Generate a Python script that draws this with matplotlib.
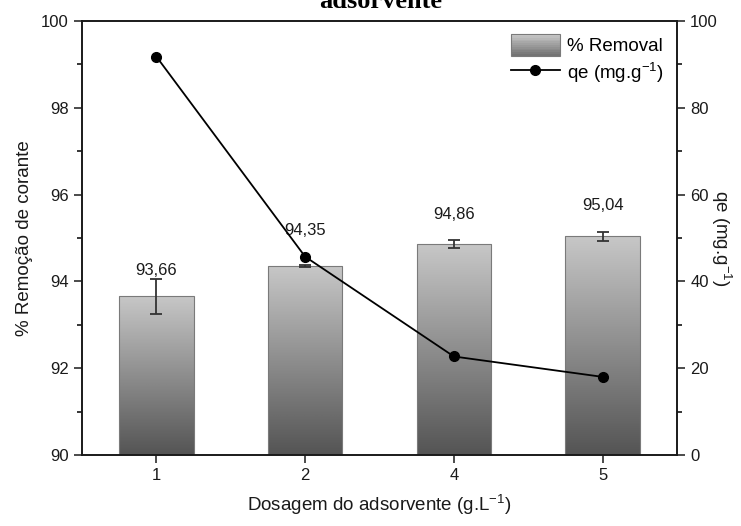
import numpy as np
import matplotlib.pyplot as plt
from matplotlib.legend_handler import HandlerBase
from matplotlib.patches import Rectangle
from matplotlib.lines import Line2D
from matplotlib.ticker import MultipleLocator

plt.rcParams['font.family'] = ['Liberation Sans', 'DejaVu Sans']

# Les données
dosagem = ['1', '2', '4', '5']
remocao = [93.66, 94.35, 94.86, 95.04]
erro = [0.40, 0.02, 0.09, 0.10]
qe = [91.8, 45.7, 22.7, 18.0]
rotulos = ['93,66', '94,35', '94,86', '95,04']
altura_rotulo = [94.26, 95.18, 95.55, 95.76]

sup = r'$\mathregular{^{-1}}$'


# Gradient pour la légende (petites bandes de gris)
class HandlerGradient(HandlerBase):
    def create_artists(self, legend, orig_handle, xdescent, ydescent,
                       width, height, fontsize, trans):
        n = 12
        arts = []
        for k in range(n):
            g = 0.78 - 0.33 * k / (n - 1)
            r = Rectangle((-xdescent, -ydescent + height * (1 - (k + 1) / n)),
                          width, height / n, facecolor=(g, g, g),
                          edgecolor='none', transform=trans)
            arts.append(r)
        arts.append(Rectangle((-xdescent, -ydescent), width, height,
                              facecolor='none', edgecolor='#7a7a7a', lw=0.8,
                              transform=trans))
        return arts


fig = plt.figure(figsize=(7.41, 5.26), dpi=100)
ax = fig.add_axes([82 / 741, 1 - 455 / 526, 595 / 741, 434 / 526])
x = np.arange(len(dosagem))

barras = ax.bar(x, remocao, width=0.5, bottom=0, facecolor='none',
                edgecolor='#7a7a7a', linewidth=0.8, zorder=2)
grad = np.linspace(0.78, 0.33, 256).reshape(-1, 1)
for b in barras:
    x0 = b.get_x()
    im = ax.imshow(np.dstack([grad] * 3), aspect='auto', zorder=1,
                   extent=(x0, x0 + b.get_width(), 90, b.get_height()),
                   interpolation='bicubic')
    im.set_clip_path(b)

ax.errorbar(x, remocao, yerr=erro, fmt='none', ecolor='#333333',
            elinewidth=1.3, capsize=4, capthick=1.3, zorder=3)
for i in range(len(x)):
    ax.text(x[i], altura_rotulo[i], rotulos[i], ha='center', va='center',
            fontsize=12, color='#1a1a1a', zorder=4)

ax.set_xlim(-0.5, 3.5)
ax.set_ylim(90, 100)
ax.set_xticks(x)
ax.set_xticklabels(dosagem)
ax.yaxis.set_major_locator(MultipleLocator(2))
ax.yaxis.set_minor_locator(MultipleLocator(1))
ax.tick_params(axis='both', which='major', direction='out', length=6,
               width=1.1, labelsize=12, colors='#1a1a1a')
ax.tick_params(axis='y', which='minor', direction='out', length=3.5, width=1.1)
ax.set_xlabel('Dosagem do adsorvente (g.L' + sup + ')', fontsize=13.5,
              color='#1a1a1a', labelpad=7)
ax.set_ylabel('% Remoção de corante', fontsize=13.5, color='#1a1a1a',
              labelpad=6)

ax2 = ax.twinx()
ax2.plot(x, qe, '-o', color='black', lw=1.3, markersize=7, zorder=5)
ax2.set_ylim(0, 100)
ax2.yaxis.set_major_locator(MultipleLocator(20))
ax2.yaxis.set_minor_locator(MultipleLocator(10))
ax2.tick_params(axis='y', which='major', direction='out', length=6,
                width=1.1, labelsize=12, colors='#1a1a1a')
ax2.tick_params(axis='y', which='minor', direction='out', length=3.5, width=1.1)
ax2.set_ylabel('qe (mg.g' + sup + ')', rotation=270, fontsize=13.5,
               color='#1a1a1a', va='center', ha='center')
ax2.yaxis.set_label_coords(1.074, 0.5)

for a in (ax, ax2):
    for s in a.spines.values():
        s.set_linewidth(1.2)
        s.set_color('#1a1a1a')

h_bar = Rectangle((0, 0), 1, 1)
h_line = Line2D([], [], color='black', marker='o', lw=1.3, markersize=7)
ax2.legend([h_bar, h_line], ['% Removal', 'qe (mg.g' + sup + ')'],
           handler_map={Rectangle: HandlerGradient()}, loc='upper right',
           frameon=False, fontsize=13.5, handlelength=2.6, handleheight=1.4,
           borderaxespad=0.3, labelspacing=0.25, handletextpad=0.4)

# Titre coupé en haut
fig.text(0.513, 1 - 8 / 526, 'adsorvente', ha='center', va='baseline',
         fontsize=19, fontweight='bold', family='Liberation Serif')

fig.savefig('out.png', dpi=100)
